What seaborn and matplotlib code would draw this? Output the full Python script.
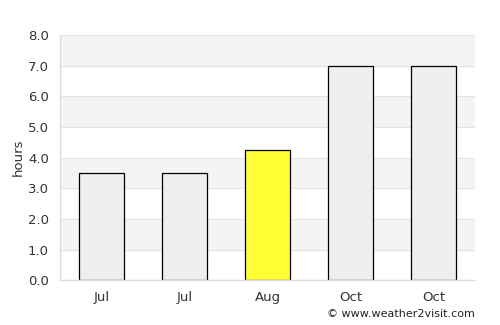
import matplotlib
matplotlib.use("Agg")
import pandas as pd
import numpy as np
import matplotlib.pyplot as plt
import seaborn as sns

# Sunshine hours per month
months = ["Jul", "Jul", "Aug", "Oct", "Oct"]
hours = [3.5, 3.5, 4.25, 7.0, 7.0]
highlight = [False, False, True, False, False]

df = pd.DataFrame({
    "slot": [str(i) for i in range(len(months))],
    "hours": hours,
    "colour": ["#ffff33" if h else "#eeeeee" for h in highlight],
})

sns.set_style("white")
plt.rcParams["font.family"] = ["DejaVu Sans"]

fig, ax = plt.subplots(figsize=(5, 3.25), dpi=100)
fig.subplots_adjust(left=0.12, right=0.95, top=0.892, bottom=0.138)

# alternating background bands
yticks = np.arange(0, 9, 1.0)
for lo in yticks[1:-1:2]:
    ax.axhspan(lo, lo + 1, color="#f4f4f4", zorder=0, lw=0)
for y in yticks:
    ax.axhline(y, color="#e2e2e2", lw=0.8, zorder=0.5)

sns.barplot(data=df, x="slot", y="hours", hue="slot", palette=list(df["colour"]),
            legend=False, width=0.55, saturation=1, edgecolor="black",
            linewidth=0.9, ax=ax, zorder=2)

ax.set_xlim(-0.5, len(months) - 0.5)
ax.set_ylim(0, 8)
ax.set_yticks(yticks)
ax.set_yticklabels([f"{v:.1f}" for v in yticks])
ax.set_xticks(range(len(months)))
ax.set_xticklabels(months)
ax.set_xlabel("")
ax.set_ylabel("hours", color="#333333", fontsize=9.5, labelpad=2)
ax.tick_params(axis="both", length=0, labelsize=9.5, labelcolor="#333333", pad=8)

for side in ["top", "right"]:
    ax.spines[side].set_visible(False)
for side in ["left", "bottom"]:
    ax.spines[side].set_color("#dddddd")
    ax.spines[side].set_linewidth(1)

fig.text(0.95, 0.018, "© www.weather2visit.com", ha="right", va="bottom",
         fontsize=8, color="#222222")

fig.savefig("out.png", dpi=100)
